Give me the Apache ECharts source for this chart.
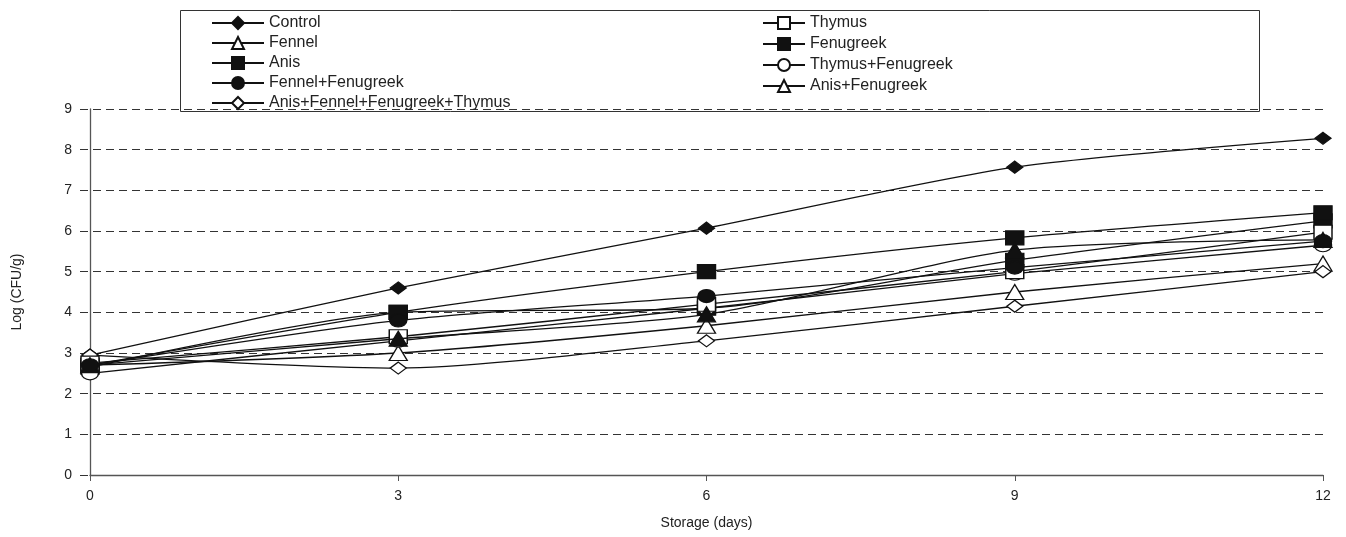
<!DOCTYPE html>
<html><head><meta charset="utf-8">
<script src="https://cdn.jsdelivr.net/npm/echarts@6/dist/echarts.min.js"></script>
<style>html,body{margin:0;padding:0;background:#fff}#c{width:1346px;height:537px}</style>
</head><body><div id="c"></div>
<script>
const days = [0, 3, 6, 9, 12];
const yTicks = [0, 1, 2, 3, 4, 5, 6, 7, 8, 9];
const control = [2.95, 4.6, 6.07, 7.57, 8.28];
const fennel = [2.7, 3.0, 3.67, 4.5, 5.2];
const anis = [2.65, 4.0, 4.1, 5.28, 6.25];
const fennelFenugreek = [2.7, 3.8, 4.4, 5.1, 5.75];
const allFour = [2.95, 2.63, 3.3, 4.15, 5.0];
const thymus = [2.75, 3.4, 4.2, 5.0, 5.97];
const fenugreek = [2.7, 4.0, 5.0, 5.83, 6.45];
const thymusFenugreek = [2.5, 3.3, 4.1, 4.95, 5.65];
const anisFenugreek = [2.7, 3.35, 3.95, 5.53, 5.78];

const FONT = 'Liberation Sans';
function pts(v){ return days.map((d,i)=>[d, v[i]]); }
function mk(name, data, symbol, fill, size, z){
  return {
    name, type:'line', data: pts(data), xAxisIndex:0, yAxisIndex:0,
    smooth:0.25, symbol, symbolSize:size, z: z||2,
    lineStyle:{color:'#111', width:1.3},
    itemStyle:{color:fill, borderColor:'#111', borderWidth:1.3},
    emphasis:{disabled:true}
  };
}
const series = [
  mk('Control', control, 'diamond', '#111', [16,12]),
  mk('Fennel', fennel, 'triangle', '#fff', [18,15]),
  mk('Anis', anis, 'rect', '#111', [18,14]),
  mk('Fennel+Fenugreek', fennelFenugreek, 'circle', '#111', [17,13], 6),
  mk('Anis+Fennel+Fenugreek+Thymus', allFour, 'diamond', '#fff', [16,12]),
  mk('Thymus', thymus, 'rect', '#fff', [18,14], 3),
  mk('Fenugreek', fenugreek, 'rect', '#111', [18,14]),
  mk('Thymus+Fenugreek', thymusFenugreek, 'circle', '#fff', [17,13]),
  mk('Anis+Fenugreek', anisFenugreek, 'triangle', '#111', [18,15], 5)
];
const legendText = {fontFamily:FONT, fontSize:16, color:'#222'};
const chart = echarts.init(document.getElementById('c'), null, {renderer:'canvas'});
chart.setOption({
  animation:false,
  backgroundColor:'#fff',
  graphic:[{type:'rect', left:178, top:8, shape:{width:1079, height:101}, style:{fill:'none', stroke:'#333', lineWidth:1}, z:0}],
  legend:[
    {orient:'vertical', left:206, top:10, padding:5, itemWidth:52, itemHeight:15, itemGap:4, textStyle:legendText,
     data:['Control','Fennel','Anis','Fennel+Fenugreek','Anis+Fennel+Fenugreek+Thymus'], selectedMode:false},
    {orient:'vertical', left:757, top:10, padding:5, itemWidth:42, itemHeight:15, itemGap:5, textStyle:legendText,
     data:['Thymus','Fenugreek','Thymus+Fenugreek',{name:'Anis+Fenugreek', itemStyle:{color:'#fff'}}], selectedMode:false}
  ],
  grid:[
    {left:90, right:23, top:109, bottom:62},
    {left:80, right:21, top:109, bottom:62}
  ],
  xAxis:[
    {type:'value', gridIndex:0, min:0, max:12, interval:3, name:'Storage (days)', nameLocation:'middle', nameGap:41,
     nameTextStyle:{fontFamily:FONT, fontSize:14, color:'#222'},
     axisLine:{show:true, lineStyle:{color:'#555', width:1.3}}, axisTick:{show:true, length:6, lineStyle:{color:'#555'}},
     axisLabel:{fontFamily:FONT, fontSize:14, color:'#222', margin:14}, splitLine:{show:false}},
    {type:'value', gridIndex:1, min:0, max:1, show:false, splitLine:{show:false}}
  ],
  yAxis:[
    {type:'value', gridIndex:0, min:0, max:9, interval:1, name:'Log (CFU/g)', nameLocation:'middle', nameGap:66,
     nameTextStyle:{fontFamily:FONT, fontSize:14, color:'#222'},
     axisLine:{show:true, lineStyle:{color:'#555', width:1.3}}, axisTick:{show:false},
     axisLabel:{fontFamily:FONT, fontSize:14, color:'#222', margin:18, formatter:v=>yTicks.includes(v)?String(v):''},
     splitLine:{show:false}},
    {type:'value', gridIndex:1, min:0, max:9, interval:1, axisLine:{show:false}, axisTick:{show:false}, axisLabel:{show:false},
     splitLine:{show:true, lineStyle:{color:'#333', width:1, type:[8,5]}}}
  ],
  series: series
});
</script></body></html>
